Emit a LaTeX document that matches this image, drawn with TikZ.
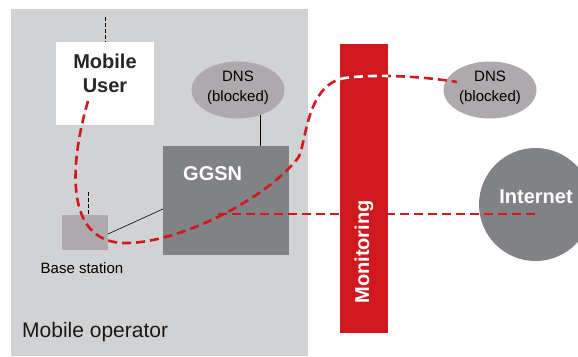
\documentclass[tikz,border=0pt]{standalone}
\usepackage{fontspec}
\setmainfont{Liberation Sans}
\usetikzlibrary{shapes.geometric}
\definecolor{opgrey}{HTML}{D1D2D4}
\definecolor{darkgrey}{HTML}{808285}
\definecolor{midgrey}{HTML}{ADA9AD}
\definecolor{monred}{HTML}{D0181F}
\begin{document}
\begin{tikzpicture}[x=1pt,y=-1pt,
  box/.style={draw=none, inner sep=0pt, outer sep=0pt},
  lbl/.style={inner sep=0pt, font=\fontsize{15}{20}\selectfont, align=center},
  bigw/.style={inner sep=0pt, font=\fontsize{20}{24}\selectfont\bfseries, align=center, text=white},
  bigk/.style={inner sep=0pt, font=\fontsize{20}{24}\selectfont\bfseries, align=center, text=black!85},
  dnsnode/.style={ellipse, fill=midgrey, inner sep=0pt, minimum width=93pt, minimum height=57pt},
  reddash/.style={draw=monred, line width=2.6pt, dash pattern=on 9pt off 5pt},
  whitedash/.style={draw=white, line width=2.6pt, dash pattern=on 9pt off 5pt},
  antenna/.style={draw=black, line width=0.7pt, dash pattern=on 4pt off 2pt},
  wire/.style={draw=black, line width=0.6pt}]
\useasboundingbox (0,0) rectangle (578,356);
\clip (0,0) rectangle (578,356);
% mobile operator area
\node[box, fill=opgrey, minimum width=297pt, minimum height=347pt, anchor=north west] (op) at (11,9) {};
\node[inner sep=0pt, anchor=west, font=\fontsize{21}{24}\selectfont, text=black!90] (optext) at (22,332) {Mobile operator};
% mobile user
\node[box, fill=white, minimum width=98pt, minimum height=83pt, anchor=north west] (user) at (56,42) {};
\coordinate (ua) at (105,17);
\draw[antenna] (ua) -- (user.north);
\node[bigk] (usertext) at (105,73) {Mobile\\User};
% DNS inside
\node[dnsnode] (dns1) at (238,90) {};
\node[lbl] (dns1text) at (238,88) {DNS\\(blocked)};
% GGSN
\node[box, fill=darkgrey, minimum width=126pt, minimum height=109pt, anchor=north west] (ggsn) at (163,146) {};
\node[bigw, anchor=west] (ggsntext) at (183,174) {GGSN};
\coordinate (dw0) at (260,115);
\coordinate (dw1) at (260,146);
\draw[wire] (dw0) -- (dw1);
% base station
\node[box, fill=midgrey, minimum width=46pt, minimum height=35pt, anchor=north west] (bs) at (62,215) {};
\coordinate (bsa) at (88,192);
\coordinate (bsb) at (88,215);
\draw[antenna] (bsa) -- (bsb);
\node[lbl] (bstext) at (82,268) {Base station};
\coordinate (bsw) at (108,234);
\coordinate (ggw) at (163,209);
\draw[wire] (bsw) -- (ggw);
% monitoring bar
\node[box, fill=monred, minimum width=48pt, minimum height=289pt, anchor=north west] (mon) at (340,44) {};
% internet
\node[circle, fill=darkgrey, inner sep=0pt, minimum size=113pt] (inet) at (535.5,204.5) {};
% DNS outside
\node[dnsnode] (dns2) at (490,90) {};
\node[lbl] (dns2text) at (490,88) {DNS\\(blocked)};
% traffic lines
\coordinate (h0) at (218,214);
\coordinate (h1) at (536,214);
\draw[reddash] (h0) -- (h1);
\coordinate (c0) at (88,101);
\coordinate (c1) at (457,82);
\def\dnsflowpath{(c0) .. controls (68,170) and (66,245) .. (128,243) .. controls (180,242) and (265,200) .. (298,158) .. controls (306,148) and (305,84) .. (345,78) .. controls (375,74) and (420,76) .. (c1)}
\draw[reddash] \dnsflowpath;
\begin{scope}
  \clip (mon.north west) rectangle (mon.south east);
  \draw[whitedash] \dnsflowpath;
\end{scope}
\node[bigw, rotate=90] (montext) at (364,252) {Monitoring};
\node[bigw] (inettext) at (536,197) {Internet};
\end{tikzpicture}
\end{document}
